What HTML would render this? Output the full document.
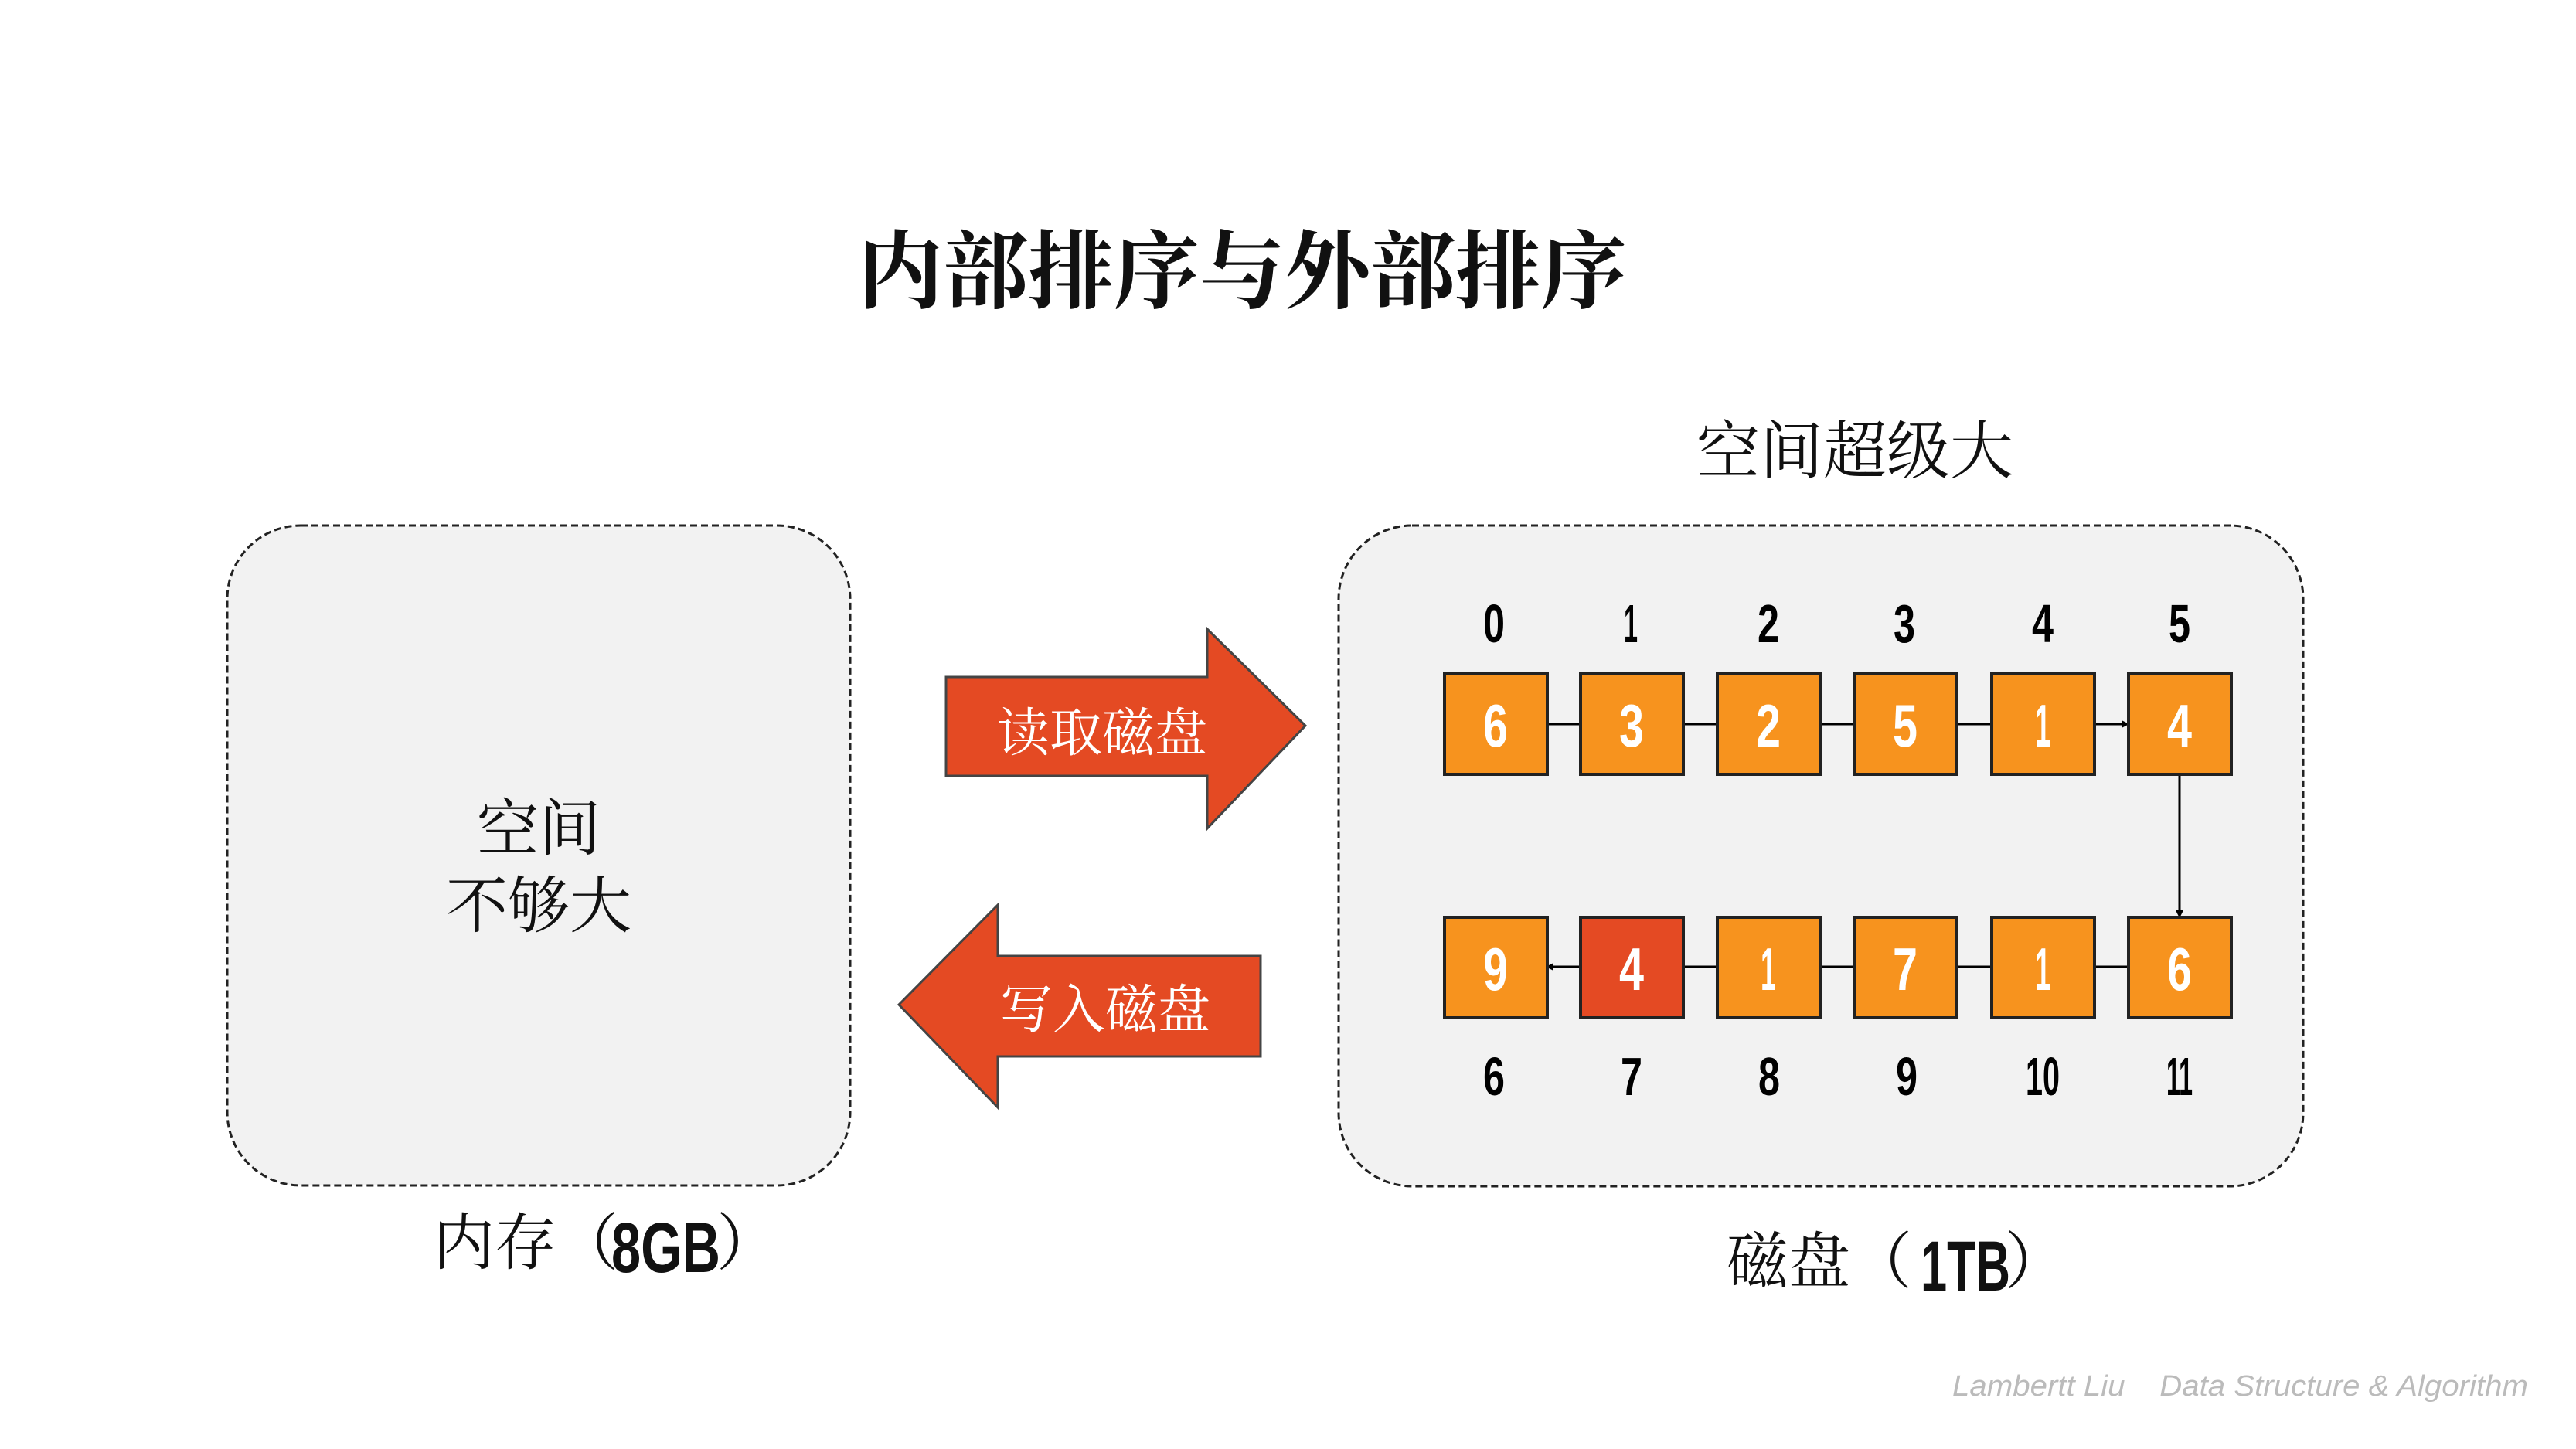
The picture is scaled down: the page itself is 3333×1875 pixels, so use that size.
<!DOCTYPE html>
<html><head><meta charset="utf-8"><style>
html,body{margin:0;padding:0;background:#fff}
svg{display:block}
.cj{font-family:"Liberation Serif","Noto Serif CJK SC",serif}
.nm{font-family:"Liberation Sans",sans-serif;font-weight:bold}
.ft{font-family:"Liberation Sans",sans-serif;font-style:italic}
</style></head><body>
<svg width="3333" height="1875" viewBox="0 0 3333 1875" xmlns="http://www.w3.org/2000/svg">
<defs>
<marker id="ah" markerWidth="10" markerHeight="10" refX="9" refY="5" orient="auto" markerUnits="userSpaceOnUse" viewBox="0 0 10 10">
<path d="M0,0 L10,5 L0,10 z" fill="#000"/></marker>
</defs>
<text x="1607" y="390" text-anchor="middle" class="cj" font-size="110" font-weight="bold" fill="#111" textLength="995" lengthAdjust="spacingAndGlyphs">内部排序与外部排序</text>
<text x="2400" y="612" text-anchor="middle" class="cj" font-size="82" fill="#111">空间超级大</text>

<rect x="294" y="680" width="806" height="854" rx="95" fill="#f2f2f2" stroke="#222" stroke-width="3" stroke-dasharray="9,5"/>
<text x="697" y="1100" text-anchor="middle" class="cj" font-size="80" fill="#111">空间</text>
<text x="697" y="1200" text-anchor="middle" class="cj" font-size="80" fill="#111">不够大</text>
<text x="560" y="1636" class="cj" font-size="80" fill="#111">内存（</text>
<text x="791" y="1646" class="nm" font-size="92" fill="#111" textLength="141" lengthAdjust="spacingAndGlyphs">8GB</text>
<text x="927" y="1636" class="cj" font-size="80" fill="#111">）</text>

<rect x="1732" y="680" width="1248" height="855" rx="95" fill="#f2f2f2" stroke="#222" stroke-width="3" stroke-dasharray="9,5"/>
<text x="2234" y="1660" class="cj" font-size="80" fill="#111">磁盘（</text>
<text x="2485" y="1670" class="nm" font-size="92" fill="#111" textLength="116" lengthAdjust="spacingAndGlyphs">1TB</text>
<text x="2594" y="1660" class="cj" font-size="80" fill="#111">）</text>

<path d="M1232,880 L1570,880 L1570,818 L1697,943 L1570,1076 L1570,1008 L1232,1008 Z" fill="#e44a23" stroke="#444" stroke-width="3" transform="translate(-8,-4)"/>
<text x="1426" y="972" text-anchor="middle" class="cj" font-size="68" fill="#fff">读取磁盘</text>
<path d="M1638,1242 L1298,1242 L1298,1176 L1170,1305 L1298,1438 L1298,1372 L1638,1372 Z" fill="#e44a23" stroke="#444" stroke-width="3" transform="translate(-7,-5)"/>
<text x="1430" y="1330" text-anchor="middle" class="cj" font-size="68" fill="#fff">写入磁盘</text>

<line x1="2001" y1="937" x2="2754" y2="937" stroke="#000" stroke-width="3" marker-end="url(#ah)"/>
<line x1="2820" y1="1002" x2="2820" y2="1187" stroke="#000" stroke-width="3" marker-end="url(#ah)"/>
<line x1="2754" y1="1251" x2="2001" y2="1251" stroke="#000" stroke-width="3" marker-end="url(#ah)"/>

<g stroke="#222" stroke-width="4">
<rect x="1869" y="872" width="133" height="130" fill="#f7931e"/>
<rect x="2045" y="872" width="133" height="130" fill="#f7931e"/>
<rect x="2222" y="872" width="133" height="130" fill="#f7931e"/>
<rect x="2399" y="872" width="133" height="130" fill="#f7931e"/>
<rect x="2577" y="872" width="133" height="130" fill="#f7931e"/>
<rect x="2754" y="872" width="133" height="130" fill="#f7931e"/>
<rect x="1869" y="1187" width="133" height="130" fill="#f7931e"/>
<rect x="2045" y="1187" width="133" height="130" fill="#e44a23"/>
<rect x="2222" y="1187" width="133" height="130" fill="#f7931e"/>
<rect x="2399" y="1187" width="133" height="130" fill="#f7931e"/>
<rect x="2577" y="1187" width="133" height="130" fill="#f7931e"/>
<rect x="2754" y="1187" width="133" height="130" fill="#f7931e"/>
</g>
<g class="nm" font-size="78" fill="#fff" text-anchor="middle">
<text x="1935" y="966" textLength="32" lengthAdjust="spacingAndGlyphs">6</text><text x="2111" y="966" textLength="32" lengthAdjust="spacingAndGlyphs">3</text><text x="2288" y="966" textLength="32" lengthAdjust="spacingAndGlyphs">2</text>
<text x="2465" y="966" textLength="32" lengthAdjust="spacingAndGlyphs">5</text><text x="2643" y="966" textLength="20" lengthAdjust="spacingAndGlyphs">1</text><text x="2820" y="966" textLength="32" lengthAdjust="spacingAndGlyphs">4</text>
<text x="1935" y="1281" textLength="32" lengthAdjust="spacingAndGlyphs">9</text><text x="2111" y="1281" textLength="32" lengthAdjust="spacingAndGlyphs">4</text><text x="2288" y="1281" textLength="20" lengthAdjust="spacingAndGlyphs">1</text>
<text x="2465" y="1281" textLength="32" lengthAdjust="spacingAndGlyphs">7</text><text x="2643" y="1281" textLength="20" lengthAdjust="spacingAndGlyphs">1</text><text x="2820" y="1281" textLength="32" lengthAdjust="spacingAndGlyphs">6</text>
</g>
<g class="nm" font-size="70" fill="#000" text-anchor="middle">
<text x="1933" y="831" textLength="28" lengthAdjust="spacingAndGlyphs">0</text><text x="2110" y="831" textLength="18" lengthAdjust="spacingAndGlyphs">1</text><text x="2288" y="831" textLength="28" lengthAdjust="spacingAndGlyphs">2</text>
<text x="2464" y="831" textLength="28" lengthAdjust="spacingAndGlyphs">3</text><text x="2643" y="831" textLength="28" lengthAdjust="spacingAndGlyphs">4</text><text x="2820" y="831" textLength="28" lengthAdjust="spacingAndGlyphs">5</text>
<text x="1933" y="1417" textLength="28" lengthAdjust="spacingAndGlyphs">6</text><text x="2111" y="1417" textLength="28" lengthAdjust="spacingAndGlyphs">7</text><text x="2289" y="1417" textLength="28" lengthAdjust="spacingAndGlyphs">8</text>
<text x="2467" y="1417" textLength="28" lengthAdjust="spacingAndGlyphs">9</text><text x="2643" y="1417" textLength="44" lengthAdjust="spacingAndGlyphs">10</text><text x="2820" y="1417" textLength="34" lengthAdjust="spacingAndGlyphs">11</text>
</g>
<text x="2526" y="1806" class="ft" font-size="38" fill="#bbb" xml:space="preserve" textLength="745" lengthAdjust="spacingAndGlyphs">Lambertt Liu    Data Structure &amp; Algorithm</text>
</svg>
</body></html>
